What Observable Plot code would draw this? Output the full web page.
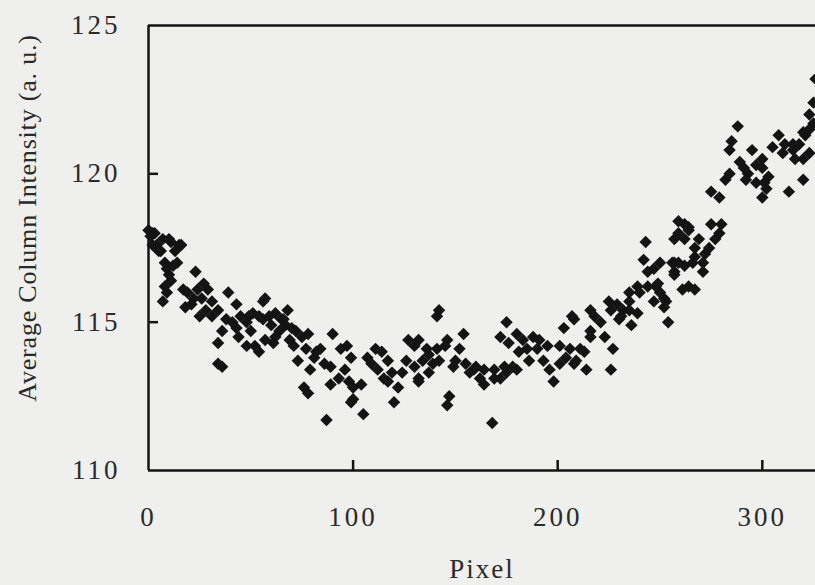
<!DOCTYPE html>
<html>
<head>
<meta charset="utf-8">
<script src="https://cdn.jsdelivr.net/npm/d3@7"></script>
<script src="https://cdn.jsdelivr.net/npm/@observablehq/plot@0.6"></script>
<style>
  html, body { margin: 0; padding: 0; background: #efefed; }
  #chart svg { display: block; }
</style>
</head>
<body>
<div id="chart"></div>
<script>
// Pixel index (x) and average column intensity (y)
const pixel = [
  0,1,2,3,4,2,5,6,7,10,11,15,16,13,8,9,12,14,23,10,11,8,7,9,17,19,22,24,26,29,27,31,39,43,57,56,
  18,21,25,28,31,34,38,41,45,49,51,54,56,59,62,65,36,43,48,50,60,64,67,34,44,48,52,54,57,61,62,34,36,
  68,66,70,72,75,78,71,73,69,90,84,81,82,86,79,89,77,94,97,99,93,98,89,100,104,96,76,78,100,99,105,87,
  107,109,111,114,117,112,119,124,117,122,120,115,127,130,130,132,126,
  142,141,132,136,141,146,145,134,139,142,137,132,137,154,152,150,149,155,159,164,169,174,178,180,157,
  162,164,169,172,160,175,147,146,168,175,172,176,180,183,188,191,185,190,181,186,193,196,198,195,
  201,204,209,201,206,211,213,214,203,208,207,216,218,221,216,223,216,227,208,226,
  225,229,232,235,239,230,236,254,235,226,231,239,235,244,249,250,247,253,252,261,240,248,252,264,267,
  242,247,244,257,257,262,250,256,267,271,266,259,271,257,
  243,259,262,259,264,257,262,269,275,280,279,277,267,272,274,264,
  288,285,284,295,289,291,293,297,300,292,297,303,302,300,305,308,311,310,315,318,320,323,321,325,323,
  325,326,323,320,315,316,300,301,313,320,275,279,284,282
];
const intensity = [
  118.1,117.9,118.0,118.0,117.6,117.6,117.4,117.4,117.8,117.8,117.7,117.6,117.6,117.4,117.0,116.8,116.9,117.0,116.7,116.6,116.4,116.2,115.7,116.0,116.1,116.0,115.8,116.1,115.8,116.1,116.3,115.7,116.0,115.6,115.8,115.7,
  115.5,115.6,115.2,115.4,115.2,115.4,115.1,115.0,115.2,115.2,115.3,115.2,115.1,115.2,115.3,115.1,114.7,114.8,115.0,114.7,114.9,114.7,114.9,114.3,114.5,114.2,114.2,114.0,114.4,114.3,114.5,113.6,113.5,
  115.4,115.1,114.8,114.7,114.5,114.6,114.2,113.7,114.4,114.6,114.1,113.8,114.0,113.6,113.4,113.5,114.1,114.1,114.2,113.8,113.1,113.0,112.9,112.8,112.9,113.4,112.8,112.6,112.4,112.3,111.9,111.7,
  113.8,113.6,114.1,114.0,113.7,113.4,113.3,113.3,113.0,112.8,112.3,113.1,114.4,114.2,113.5,113.1,113.7,
  115.4,115.2,114.4,114.1,114.1,114.4,114.2,113.7,113.6,113.7,113.3,113.0,113.9,114.6,114.1,113.7,113.5,113.6,113.4,113.4,113.4,113.5,113.5,113.4,113.3,
  113.1,112.9,113.1,113.1,113.5,113.3,112.5,112.2,111.6,115.0,114.5,114.3,114.6,114.4,114.5,114.4,114.1,114.1,114.0,113.7,113.7,113.4,113.0,114.2,
  113.6,113.8,113.7,114.2,114.1,114.1,114.0,113.4,114.8,115.1,115.2,115.4,115.2,115.0,114.7,114.5,114.5,114.1,113.6,113.4,
  115.7,115.6,115.4,115.4,115.3,115.1,114.9,115.0,115.7,115.4,115.2,116.2,116.0,116.2,116.3,116.0,115.7,115.7,115.5,116.1,116.0,116.2,115.8,116.2,116.1,
  117.1,116.8,116.7,117.0,116.7,116.9,117.0,117.0,117.2,117.0,117.0,117.0,116.7,116.6,
  117.7,118.0,118.3,118.4,118.2,117.8,117.8,117.8,118.3,118.3,118.0,117.8,117.5,117.3,117.5,118.1,
  121.6,121.1,120.8,120.8,120.4,120.2,120.0,120.3,120.2,119.8,119.7,119.9,119.5,119.2,120.9,121.3,121.0,120.7,120.8,121.0,120.5,120.7,121.3,121.7,122.0,
  122.4,123.2,121.5,121.4,121.0,120.5,120.5,119.7,119.4,119.8,119.4,119.2,120.0,119.8
];
const xTicks = [0, 100, 200, 300];
const yTicks = [110, 115, 120, 125];
const xTitle = "Pixel";
const yTitle = "Average Column Intensity (a. u.)";

const points = pixel.map((p, i) => ({pixel: p, intensity: intensity[i]}));

const ink = "#141414";
const textInk = "#2a2a2a";
const font = "'Liberation Serif', 'Times New Roman', serif";

const chart = Plot.plot({
  width: 815,
  height: 585,
  marginLeft: 148,
  marginRight: 0,
  marginTop: 25,
  marginBottom: 115,
  style: {background: "#efefed", fontFamily: font, color: textInk},
  x: {domain: [0, 326], label: null},
  y: {domain: [110, 125], label: null},
  marks: [
    Plot.axisX({ticks: xTicks, tickSize: 0, tickPadding: 36, fontSize: 27, tickFormat: d => String(d), fill: textInk, label: null, className: "tl"}),
    Plot.axisX({ticks: xTicks.filter(t => t > 0), tickSize: -10, strokeWidth: 2.5, stroke: ink, text: null, label: null}),
    Plot.axisY({ticks: yTicks, tickSize: 0, tickPadding: 28, fontSize: 27, fill: textInk, label: null, className: "tl"}),
    Plot.axisY({ticks: yTicks.filter(t => t > 110 && t < 125), tickSize: -10, strokeWidth: 2.5, stroke: ink, text: null, label: null}),
    Plot.ruleY([110, 125], {stroke: ink, strokeWidth: 2.5}),
    Plot.ruleX([0], {stroke: ink, strokeWidth: 2.5}),
    Plot.dot(points, {x: "pixel", y: "intensity", symbol: "diamond2", r: 5.6, fill: ink, stroke: "none"}),
    Plot.text([xTitle], {frameAnchor: "bottom", lineAnchor: "bottom", dy: 107, fontSize: 27, fill: textInk, className: "xt"}),
    Plot.text([yTitle], {frameAnchor: "left", textAnchor: "middle", rotate: -90, dx: -121, dy: -30, fontSize: 26, fill: textInk, className: "yt"})
  ]
});
chart.querySelectorAll(".tl text").forEach(t => t.setAttribute("letter-spacing", "3"));
chart.querySelectorAll(".xt text").forEach(t => t.setAttribute("letter-spacing", "2"));
chart.querySelectorAll(".yt text").forEach(t => t.setAttribute("letter-spacing", "0.8"));
document.getElementById("chart").appendChild(chart);
</script>
</body>
</html>
